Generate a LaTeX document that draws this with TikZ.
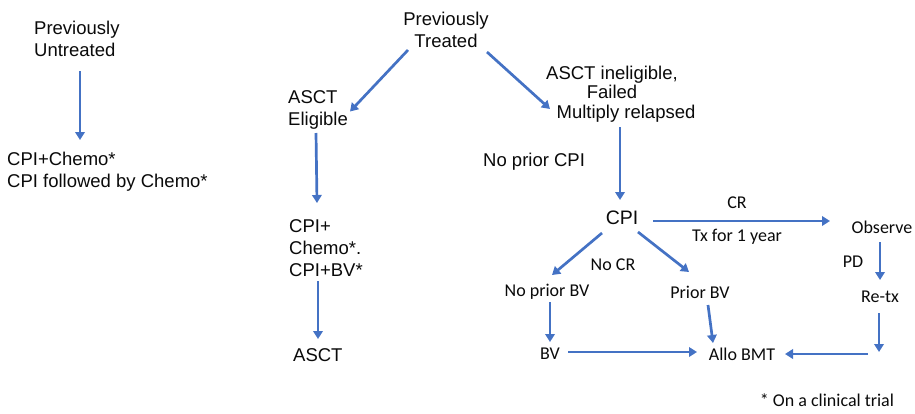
\documentclass[tikz,border=0pt]{standalone}
\usepackage{fontspec}
\setmainfont{Liberation Sans}
\newfontfamily\calfont{Carlito}
\usetikzlibrary{arrows.meta}
\definecolor{arrblue}{RGB}{68,114,196}
\definecolor{txt}{RGB}{10,10,10}
\tikzset{
  ar/.style={font=\fontsize{18.5}{22}\selectfont, text=txt, inner sep=0pt},
  cal/.style={font=\calfont\fontsize{18}{21}\selectfont, text=txt, inner sep=0pt},
  arr/.style={draw=arrblue, line width=2.7pt, -{Triangle[length=8pt,width=9.5pt]}},
}
\begin{document}
\begin{tikzpicture}[x=1pt,y=-1pt]
\useasboundingbox (0,0) rectangle (915,413);
% nodes
\node[ar, align=left, anchor=west] (untr) at (34,38.5) {Previously\\Untreated};
\node[ar, align=left, anchor=west] (cpichemo) at (7,172) {CPI+Chemo*\\CPI followed by Chemo*};
\node[ar, align=center] (treated) at (446,29.5) {Previously\\Treated};
\node[ar, align=left, anchor=west] (elig) at (288,109.5) {ASCT\\Eligible};
\node[ar, align=center, font=\fontsize{18.5}{19.5}\selectfont] (inelig) at (612,94) {ASCT ineligible,\\Failed\\\hspace*{28pt}Multiply relapsed};
\node[ar, align=left, anchor=west] (cpiplus) at (289,248.5) {CPI+\\Chemo*.\\CPI+BV*};
\node[ar, anchor=west] (asct) at (293,355) {ASCT};
\node[ar, anchor=west] (nocpi) at (483,162) {No prior CPI};
\node[ar, font=\fontsize{19.5}{22}\selectfont] (cpi) at (622,218) {CPI};
\node[cal] (cr) at (737,203) {CR};
\node[cal] (tx) at (737,237) {Tx for 1 year};
\node[cal] (observe) at (882,227) {Observe};
\node[cal] (pd) at (853,262) {PD};
\node[cal] (retx) at (880,297) {Re-tx};
\node[cal] (nocr) at (613,265) {No CR};
\node[cal] (npbv) at (547,292) {No prior BV};
\node[cal] (pbv) at (700,292) {Prior BV};
\node[cal] (bv) at (550,354) {BV};
\node[cal] (allo) at (742,354) {Allo BMT};
\node[cal] (trial) at (827,400) {* On a clinical trial};
\coordinate (rcorner) at (879,352);
\coordinate (rstart) at (868,354);
% connectors
\draw[arr] ([shift={(46,32.5)}]untr.west) -- ([shift={(73,-32)}]cpichemo.west);
\draw[arr] ([shift={(-38,20.5)}]treated.center) -- ([shift={(62,2)}]elig.west);
\draw[arr] ([shift={(41,22.5)}]treated.center) -- ([shift={(-62,15)}]inelig.center);
\draw[arr] ([shift={(28,23.5)}]elig.west) -- ([shift={(28,-45.5)}]cpiplus.west);
\draw[arr] ([shift={(29,32.5)}]cpiplus.west) -- ([shift={(25,-16)}]asct.west);
\draw[arr] ([shift={(8,33)}]inelig.center) -- ([shift={(-2,-18)}]cpi.center);
\draw[arr] ([shift={(31,3)}]cpi.center) -- ([shift={(-52,-6)}]observe.center);
\draw[arr] ([shift={(-2,15)}]observe.center) -- ([shift={(0,-17)}]retx.center);
\draw[arr] ([shift={(-1,16)}]retx.center) -- (rcorner);
\draw[arr] (rstart) -- ([shift={(43,0)}]allo.center);
\draw[arr] ([shift={(-20,15)}]cpi.center) -- ([shift={(5,-17)}]npbv.center);
\draw[arr] ([shift={(16,14)}]cpi.center) -- ([shift={(-11,-20)}]pbv.center);
\draw[arr] ([shift={(3,10)}]npbv.center) -- ([shift={(0,-12)}]bv.center);
\draw[arr] ([shift={(8,13)}]pbv.center) -- ([shift={(-29,-11)}]allo.center);
\draw[arr] ([shift={(18,-2)}]bv.center) -- ([shift={(-45,-2)}]allo.center);
\end{tikzpicture}
\end{document}
